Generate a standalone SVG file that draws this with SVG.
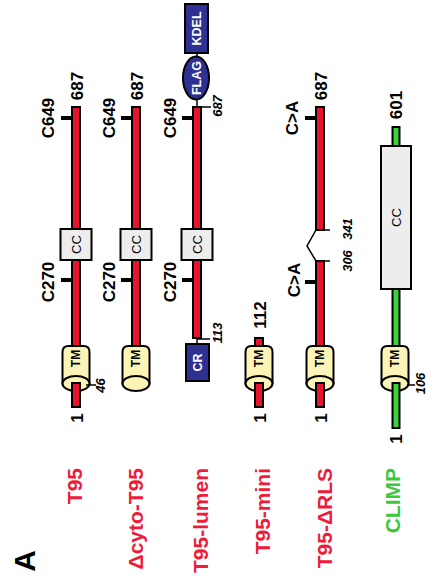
<svg xmlns="http://www.w3.org/2000/svg" width="434" height="584" viewBox="0 0 434 584">
<style>
text{font-family:"Liberation Sans",Arial,sans-serif;font-weight:bold;}
.rod{fill:#E8132D;stroke:#000;stroke-width:2;}
.grod{fill:#3DD13D;stroke:#000;stroke-width:2;}
.tick{fill:#000;}
.thin{stroke:#000;stroke-width:1.5;fill:none;}
.cc{fill:#EDEDED;stroke:#000;stroke-width:2;}
.tm{fill:#FCF3B6;stroke:#000;stroke-width:2;}
.blue{fill:#2E3192;stroke:#000;stroke-width:2;}
.lbl{font-size:17px;fill:#000;}
.it{font-size:13px;font-style:italic;fill:#000;}
.in{font-size:13px;font-weight:normal;fill:#000;}
.tmt{font-size:12px;fill:#000;}
.wt{font-size:12.5px;fill:#fff;}
.name{font-size:21px;fill:#EE1B3A;}
.gname{font-size:21px;fill:#3CC83C;}
</style>
<defs>
<g id="tmcyl">
<path class="tm" d="M-13.5,383.5 V352 Q-13.5,346 -7.5,346 H7.5 Q13.5,346 13.5,352 V383.5 Z"/>
<ellipse class="tm" cx="0" cy="383.5" rx="13.5" ry="7.5"/>
<text class="tmt" text-anchor="middle" transform="translate(4.3,358.5) rotate(-90)">TM</text>
</g>
<g id="ccbox">
<rect class="cc" x="-15.5" y="229" width="31" height="31"/>
<text class="in" text-anchor="middle" transform="translate(4.5,244.5) rotate(-90)">CC</text>
</g>
</defs>

<text class="lbl" font-size="30" style="font-size:30px" text-anchor="middle" transform="translate(35,561) rotate(-90)">A</text>

<g id="T95" transform="translate(76,0)">
<rect class="rod" x="-4" y="107" width="8" height="239"/>
<use href="#ccbox"/>
<rect class="tick" x="-15" y="116" width="10" height="4"/>
<rect class="tick" x="-15" y="278" width="10" height="4"/>
<use href="#tmcyl"/>
<rect class="rod" x="-4" y="383" width="8" height="24"/>
<line class="thin" x1="10" y1="385" x2="20" y2="385"/>
<text class="lbl" text-anchor="middle" transform="translate(-22,118) rotate(-90)">C649</text>
<text class="lbl" text-anchor="middle" transform="translate(-22,282) rotate(-90)">C270</text>
<text class="lbl" text-anchor="middle" transform="translate(7,86) rotate(-90)">687</text>
<text class="lbl" text-anchor="middle" transform="translate(7,418) rotate(-90)">1</text>
<text class="it" text-anchor="middle" transform="translate(29,385.5) rotate(-90)">46</text>
<text class="name" text-anchor="end" transform="translate(6,468) rotate(-90)">T95</text>
</g>

<g id="dcyto-T95" transform="translate(136,0)">
<rect class="rod" x="-4" y="107" width="8" height="239"/>
<use href="#ccbox"/>
<rect class="tick" x="-15" y="116" width="10" height="4"/>
<rect class="tick" x="-15" y="278" width="10" height="4"/>
<use href="#tmcyl"/>
<text class="lbl" text-anchor="middle" transform="translate(-21,118) rotate(-90)">C649</text>
<text class="lbl" text-anchor="middle" transform="translate(-21,282) rotate(-90)">C270</text>
<text class="lbl" text-anchor="middle" transform="translate(7,86) rotate(-90)">687</text>
<text class="name" text-anchor="end" transform="translate(7,468) rotate(-90)">Δcyto-T95</text>
</g>

<g id="T95-lumen" transform="translate(197,0)">
<line class="thin" x1="0" y1="53" x2="0" y2="107"/>
<rect class="blue" x="-12" y="4" width="23" height="49"/>
<text class="wt" text-anchor="middle" transform="translate(4,28.5) rotate(-90)">KDEL</text>
<ellipse class="blue" cx="-1" cy="78" rx="13" ry="21.5"/>
<text class="wt" text-anchor="middle" transform="translate(3.5,78) rotate(-90)">FLAG</text>
<rect class="rod" x="-4" y="107" width="8" height="231"/>
<use href="#ccbox"/>
<rect class="tick" x="-15" y="116" width="10" height="4"/>
<rect class="tick" x="-15" y="278" width="10" height="4"/>
<line class="thin" x1="0" y1="107" x2="14" y2="107"/>
<line class="thin" x1="0" y1="338" x2="0" y2="344"/>
<line class="thin" x1="0" y1="339" x2="13" y2="339"/>
<rect class="blue" x="-11" y="344" width="23" height="37"/>
<text class="wt" text-anchor="middle" transform="translate(5,362.5) rotate(-90)">CR</text>
<text class="lbl" text-anchor="middle" transform="translate(-21,118) rotate(-90)">C649</text>
<text class="lbl" text-anchor="middle" transform="translate(-21,282) rotate(-90)">C270</text>
<text class="it" text-anchor="middle" transform="translate(25,106) rotate(-90)">687</text>
<text class="it" text-anchor="middle" transform="translate(25,333) rotate(-90)">113</text>
<text class="name" text-anchor="end" transform="translate(11,468) rotate(-90)">T95-lumen</text>
</g>

<g id="T95-mini" transform="translate(259,0)">
<rect class="rod" x="-4" y="338" width="8" height="8"/>
<use href="#tmcyl"/>
<rect class="rod" x="-4" y="383" width="8" height="24"/>
<text class="lbl" text-anchor="middle" transform="translate(7,315) rotate(-90)">112</text>
<text class="lbl" text-anchor="middle" transform="translate(7,418) rotate(-90)">1</text>
<text class="name" text-anchor="end" transform="translate(11,468) rotate(-90)">T95-mini</text>
</g>

<g id="T95-dRLS" transform="translate(320,0)">
<rect class="rod" x="-4" y="107" width="8" height="123"/>
<rect class="rod" x="-4" y="261" width="8" height="85"/>
<path class="thin" d="M10,230 H-4 L-13,246 L-4,261 H10"/>
<rect class="tick" x="-15" y="116" width="10" height="4"/>
<rect class="tick" x="-15" y="280" width="10" height="4"/>
<use href="#tmcyl"/>
<rect class="rod" x="-4" y="383" width="8" height="24"/>
<text class="lbl" text-anchor="middle" transform="translate(-22,118) rotate(-90)">C&gt;A</text>
<text class="lbl" text-anchor="middle" transform="translate(-20,280) rotate(-90)">C&gt;A</text>
<text class="lbl" text-anchor="middle" transform="translate(7,86) rotate(-90)">687</text>
<text class="it" text-anchor="middle" transform="translate(32,229) rotate(-90)">341</text>
<text class="it" text-anchor="middle" transform="translate(32,261) rotate(-90)">306</text>
<text class="lbl" text-anchor="middle" transform="translate(7,418) rotate(-90)">1</text>
<text class="name" text-anchor="end" transform="translate(12,468) rotate(-90)">T95-ΔRLS</text>
</g>

<g id="CLIMP" transform="translate(396,0)">
<rect class="grod" x="-3.5" y="127" width="7" height="219"/>
<rect class="cc" x="-15" y="146" width="30" height="143"/>
<text class="in" text-anchor="middle" transform="translate(4.5,217.5) rotate(-90)">CC</text>
<use href="#tmcyl" transform="translate(-1,0)"/>
<rect class="grod" x="-3.5" y="383" width="7" height="45"/>
<line class="thin" x1="11" y1="385" x2="19" y2="385"/>
<text class="lbl" text-anchor="middle" transform="translate(6,105) rotate(-90)">601</text>
<text class="it" text-anchor="middle" transform="translate(29,383.5) rotate(-90)">106</text>
<text class="lbl" text-anchor="middle" transform="translate(6,439) rotate(-90)">1</text>
<text class="gname" text-anchor="end" transform="translate(4,468) rotate(-90)">CLIMP</text>
</g>
</svg>
